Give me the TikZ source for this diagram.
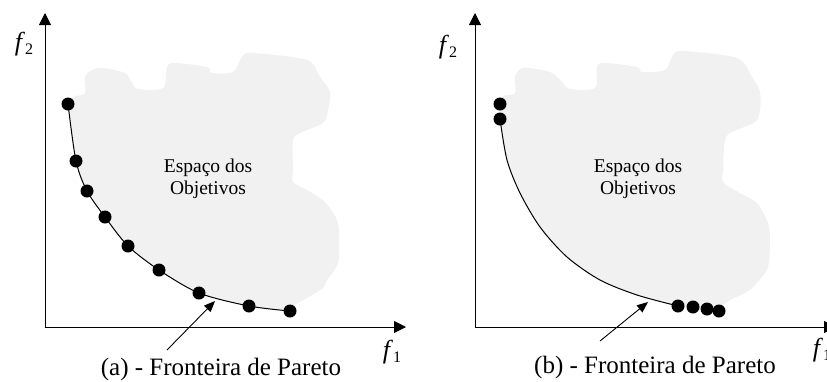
\documentclass[tikz,border=0pt]{standalone}
\usepackage{fontspec}
\setmainfont{Liberation Serif}
\usetikzlibrary{arrows.meta}
\definecolor{spacegray}{RGB}{241,241,241}
\tikzset{
  sol/.style={
    shape = circle,
    fill,
    inner sep = 0pt,
    minimum size = 13pt
  },
  axisline/.style={
    line width = 1pt,
    -{Triangle[length=12pt,width=12pt]}
  },
  pointer/.style={
    line width = 0.9pt,
    -{Triangle[length=11pt,width=9pt]}
  },
  front/.style={
    line width = 1pt
  },
  objspace/.style={
    fill = spacegray
  },
  axlabel/.style={
    font = \fontsize{26}{26}\selectfont,
    inner sep = 0pt
  },
  spacelabel/.style={
    font = \fontsize{19.5}{22.5}\selectfont,
    align = center,
    inner sep = 0pt
  },
  caption/.style={
    font = \fontsize{25}{25}\selectfont,
    anchor = base,
    inner sep = 0pt
  }
}
\newcommand{\fsub}[1]{\textit{f}\raisebox{-0.35ex}{\fontsize{16}{16}\selectfont #1}}

\begin{document}
\begin{tikzpicture}[x=1pt,y=-1pt]
    \useasboundingbox (0,0) rectangle (827,381);

    % (a) spread front
    \fill[objspace] plot[smooth, tension=.5] coordinates {(68,104) (73,97) (85,93) (85,77) (92,70) (103,68) (125,73) (132,83) (138,89) (163,88) (167,67) (175,63) (207,67) (212,73) (233,72) (242,57) (252,53) (307,60) (320,77) (330,92) (328,110) (323,123) (300,133) (293,140) (293,170) (293,182) (307,190) (325,202) (337,220) (339,237) (338,263) (327,280) (323,288) (307,298) (295,305) (290,311)}
        -- plot[smooth] coordinates {(290,311) (249,306) (199,293) (159,270) (128,246) (105,217) (87,191) (76,161) (68,104)} -- cycle;

    \coordinate (oa) at (45,327);
    \coordinate (ya) at (45,13);
    \coordinate (xa) at (406,327);
    \draw[axisline] (oa) -- (ya);
    \draw[axisline] (oa) -- (xa);

    \node[sol] (a1) at (68,104) {};
    \node[sol] (a2) at (76,161) {};
    \node[sol] (a3) at (87,191) {};
    \node[sol] (a4) at (105,217) {};
    \node[sol] (a5) at (128,246) {};
    \node[sol] (a6) at (159,270) {};
    \node[sol] (a7) at (199,293) {};
    \node[sol] (a8) at (249,306) {};
    \node[sol] (a9) at (290,311) {};
    \draw[front] plot[smooth] coordinates {(a1.center) (a2.center) (a3.center) (a4.center) (a5.center) (a6.center) (a7.center) (a8.center) (a9.center)};

    \node[spacelabel] (espa) at (208,179) {Espaço dos\\Objetivos};
    \node[axlabel] (f2a) at (24,44) {\fsub{2}};
    \node[axlabel] (f1a) at (392,352) {\fsub{1}};
    \node[caption] (capa) at (221,375) {(a) - Fronteira de Pareto};
    \coordinate (pa) at (167,350);
    \coordinate (pta) at (215,301);
    \draw[pointer] (pa) -- (pta);

    % (b) clustered front
    \fill[objspace] plot[smooth, tension=.5] coordinates {(500,104) (503,96) (515,93) (515,77) (523,68) (550,72) (562,82) (570,89) (595,88) (597,67) (605,63) (637,67) (642,72) (665,70) (673,55) (683,51) (737,58) (752,77) (760,92) (760,110) (755,122) (732,132) (725,140) (723,170) (723,182) (738,192) (757,203) (768,223) (770,240) (768,267) (757,283) (747,292) (730,300) (722,307) (719,311)}
        -- plot[smooth] coordinates {(719,311) (707,309) (693,307) (678,306) (637,295) (600,280) (567,257) (540,227) (520,193) (507,160) (500,119) (500,104)} -- cycle;

    \coordinate (ob) at (475,327);
    \coordinate (yb) at (475,13);
    \coordinate (xb) at (836,327);
    \draw[axisline] (ob) -- (yb);
    \draw[axisline] (ob) -- (xb);

    \node[sol] (b1) at (500,104) {};
    \node[sol] (b2) at (500,119) {};
    \node[sol] (b3) at (678,306) {};
    \node[sol] (b4) at (693,307) {};
    \node[sol] (b5) at (707,309) {};
    \node[sol] (b6) at (719,311) {};
    \draw[front] plot[smooth] coordinates {(b2.center) (507,160) (520,193) (540,227) (567,257) (600,280) (637,295) (b3.center)};

    \node[spacelabel] (espb) at (638,179) {Espaço dos\\Objetivos};
    \node[axlabel] (f2b) at (448,47) {\fsub{2}};
    \node[axlabel] (f1b) at (822,350) {\fsub{1}};
    \node[caption] (capb) at (655,373) {(b) - Fronteira de Pareto};
    \coordinate (pb) at (600,341);
    \coordinate (ptb) at (648,302);
    \draw[pointer] (pb) -- (ptb);
\end{tikzpicture}
\end{document}
